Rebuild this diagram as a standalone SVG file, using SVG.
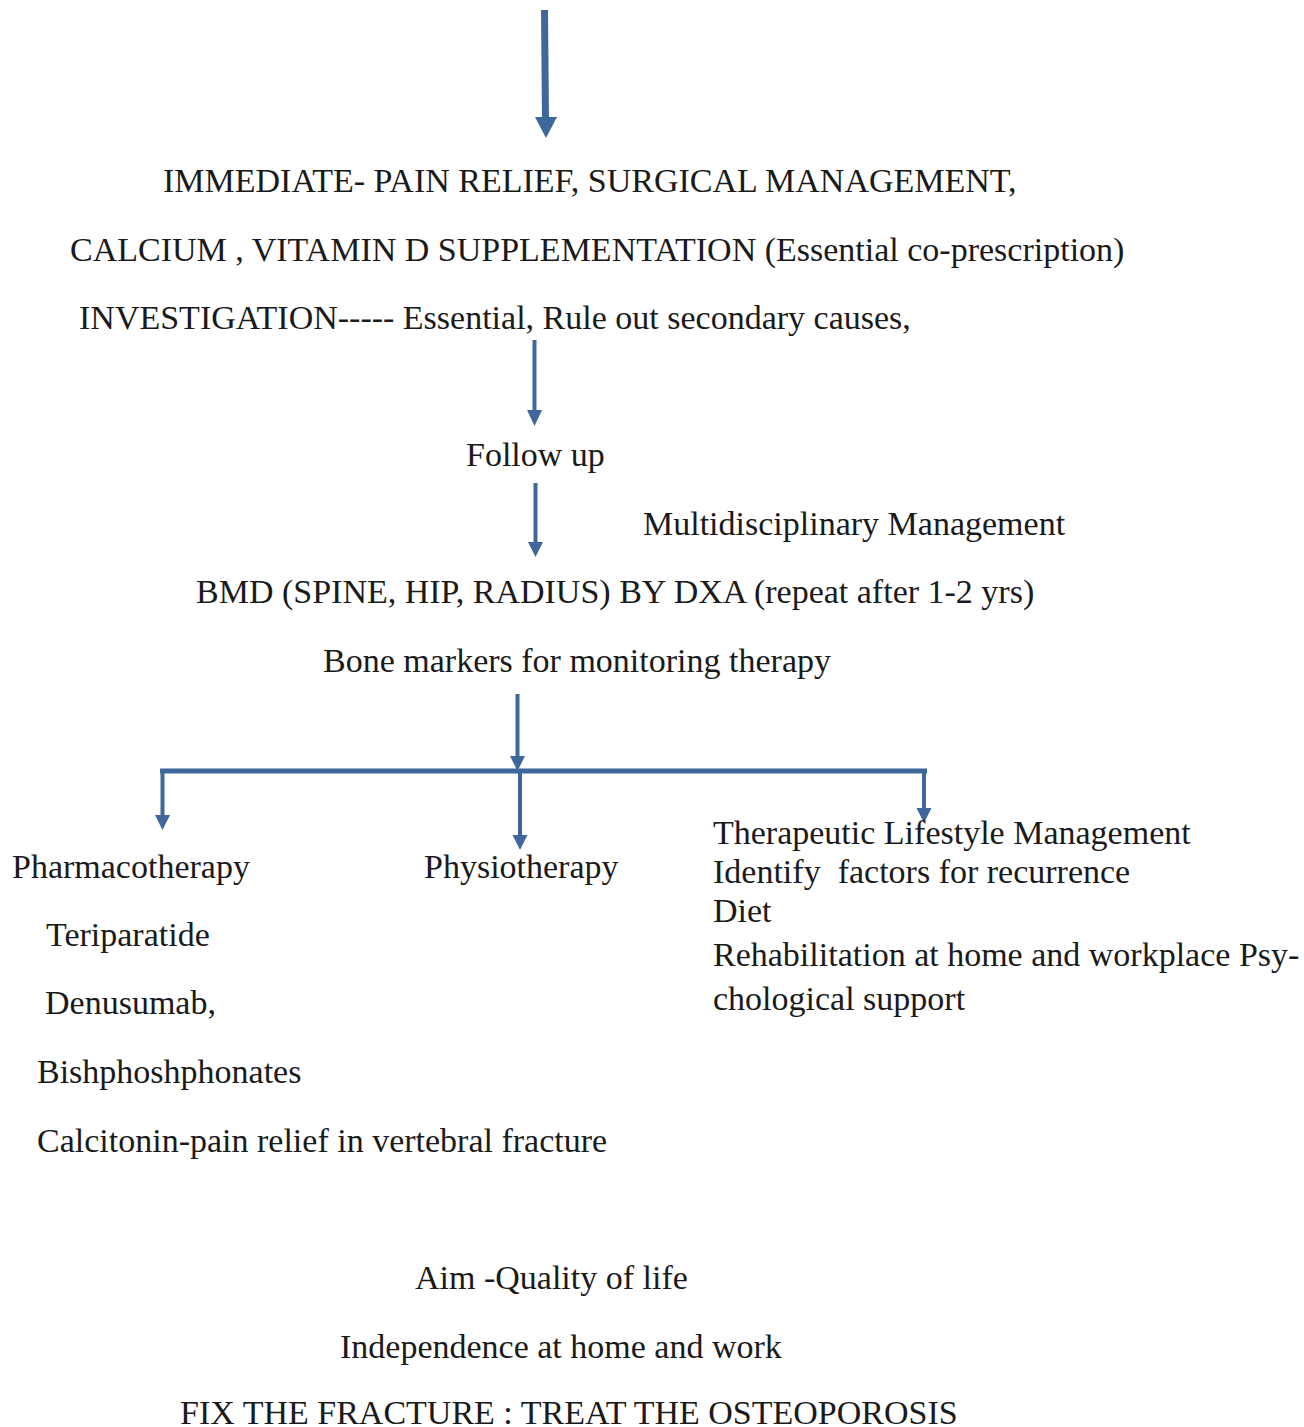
<svg xmlns="http://www.w3.org/2000/svg" width="1304" height="1427" viewBox="0 0 1304 1427">
<style>
text{font-family:"Liberation Serif","Times New Roman",serif;font-size:34px;fill:#1a1a1a;white-space:pre}
.c{stroke:#3f679b;fill:none}
.h{fill:#3f679b}
</style>
<rect width="1304" height="1427" fill="#fff"/>
<g id="connectors">
<line class="c" x1="544.5" y1="10" x2="545.5" y2="120" stroke-width="7"/>
<polygon class="h" points="535,117 557,117 546,138"/>
<line class="c" x1="534.5" y1="340" x2="534.5" y2="412" stroke-width="4"/>
<polygon class="h" points="527,410 542,410 534.5,426"/>
<line class="c" x1="535.5" y1="483" x2="535.5" y2="544" stroke-width="4"/>
<polygon class="h" points="528,542 543,542 535.5,557"/>
<line class="c" x1="517.5" y1="694" x2="517.5" y2="758" stroke-width="4"/>
<polygon class="h" points="510,756 525,756 517.5,771"/>
<line class="c" x1="160" y1="771" x2="927" y2="771" stroke-width="5"/>
<line class="c" x1="162.5" y1="773" x2="162.5" y2="817" stroke-width="4"/>
<polygon class="h" points="155,815 170,815 162.5,830"/>
<line class="c" x1="520" y1="773" x2="520" y2="837" stroke-width="4"/>
<polygon class="h" points="512.5,835 527.5,835 520,850"/>
<line class="c" x1="924" y1="771" x2="924" y2="810" stroke-width="4"/>
<polygon class="h" points="916.5,808 931.5,808 924,823"/>
</g>
<g id="immediate"><text x="163" y="192">IMMEDIATE- PAIN RELIEF, SURGICAL MANAGEMENT,</text></g>
<g id="calcium"><text x="70" y="261">CALCIUM , VITAMIN D SUPPLEMENTATION (Essential co-prescription)</text></g>
<g id="investigation"><text x="79" y="329">INVESTIGATION----- Essential, Rule out secondary causes,</text></g>
<g id="followup"><text x="466" y="466">Follow up</text></g>
<g id="multidisciplinary"><text x="643" y="535">Multidisciplinary Management</text></g>
<g id="bmd"><text x="196" y="603">BMD (SPINE, HIP, RADIUS) BY DXA (repeat after 1-2 yrs)</text></g>
<g id="bonemarkers"><text x="323" y="672">Bone markers for monitoring therapy</text></g>
<g id="pharmacotherapy">
<text x="12" y="878">Pharmacotherapy</text>
<text x="46" y="946">Teriparatide</text>
<text x="45" y="1014">Denusumab,</text>
<text x="37" y="1083">Bishphoshphonates</text>
<text x="37" y="1152">Calcitonin-pain relief in vertebral fracture</text>
</g>
<g id="physiotherapy"><text x="424" y="878">Physiotherapy</text></g>
<g id="lifestyle">
<text x="713" y="844">Therapeutic Lifestyle Management</text>
<text x="713" y="883">Identify  factors for recurrence</text>
<text x="713" y="922">Diet</text>
<text x="713" y="966">Rehabilitation at home and workplace Psy-</text>
<text x="713" y="1010">chological support</text>
</g>
<g id="aim">
<text x="415" y="1289">Aim -Quality of life</text>
<text x="340" y="1358">Independence at home and work</text>
<text x="180" y="1424">FIX THE FRACTURE : TREAT THE OSTEOPOROSIS</text>
</g>
</svg>
